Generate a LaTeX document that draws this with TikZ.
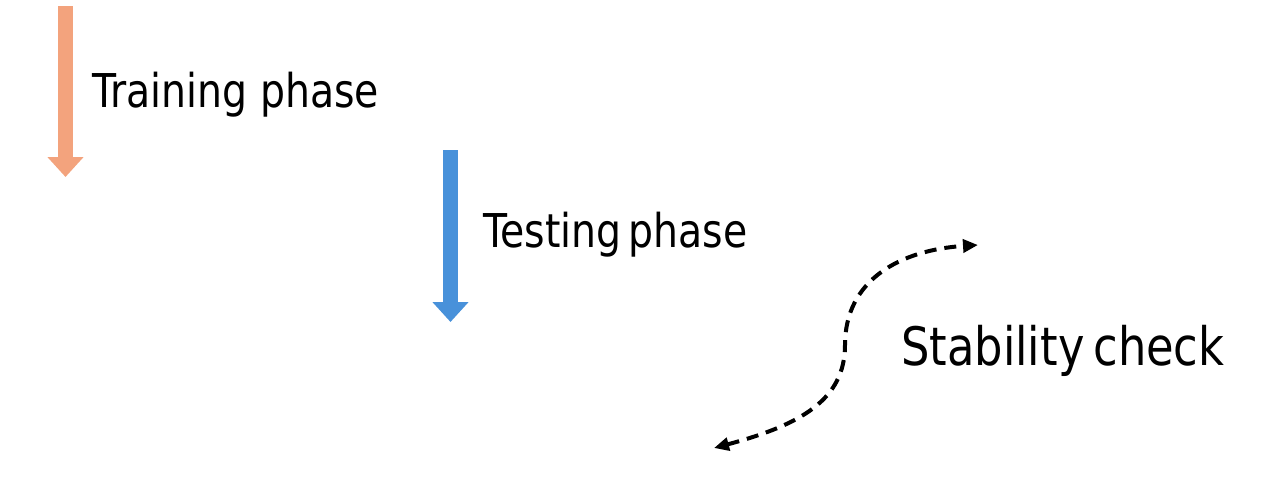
\documentclass[tikz,border=0pt]{standalone}
\usepackage{fontspec}
\setmainfont[FakeStretch=0.845]{DejaVu Sans}
\usetikzlibrary{arrows.meta}
\definecolor{trainorange}{RGB}{243,163,125}
\definecolor{testblue}{RGB}{72,145,218}
\tikzset{
  phasearrow/.style={line width=15pt, -{Triangle[width=35pt,length=20pt]}},
  phaselabel/.style={anchor=base west, inner sep=0pt, font=\fontsize{46.6}{52}\selectfont, text=black},
  checklabel/.style={anchor=base west, inner sep=0pt, font=\fontsize{53}{60}\selectfont, text=black},
  checkcurve/.style={line width=4pt, dash pattern=on 12pt off 8pt,
    {Triangle[width=13pt,length=15pt]}-{Triangle[width=13pt,length=15pt]}}
}
\begin{document}
\begin{tikzpicture}[x=1pt,y=-1pt]
\useasboundingbox (0,0) rectangle (1282,477);
% training phase
\coordinate (trtop) at (65.5,6);
\coordinate (trtip) at (65.5,177);
\draw[phasearrow, draw=trainorange, fill=trainorange] (trtop) -- (trtip);
\node[phaselabel] (trlabel) at (92,107) {Training phase};
% testing phase
\coordinate (tetop) at (450.5,150);
\coordinate (tetip) at (450.5,322);
\draw[phasearrow, draw=testblue, fill=testblue] (tetop) -- (tetip);
\node[phaselabel] (telabel) at (483,247) {Testing\hspace{-0.12em} phase};
% stability check
\node[checklabel] (stlabel) at (901,365) {Stability\hspace{-0.1em} check};
\coordinate (stlow) at (714,448);
\coordinate (sthigh) at (978,245);
\draw[checkcurve] (stlow) .. controls (800,425) and (845,400) .. (845,345)
  .. controls (845,280) and (900,250) .. (sthigh);
\end{tikzpicture}
\end{document}
